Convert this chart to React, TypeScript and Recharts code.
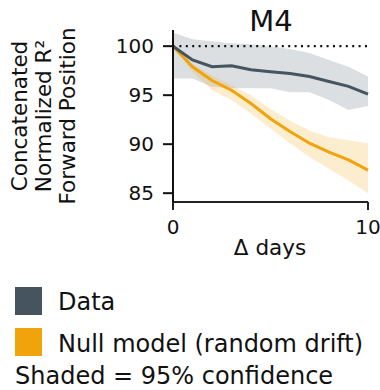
import React from "react";
import {
  ComposedChart,
  Area,
  Line,
  XAxis,
  YAxis,
  ReferenceLine,
} from "recharts";

const days = [0, 1, 2, 3, 4, 5, 6, 7, 8, 9, 10];
const dataMean = [100, 98.6, 97.9, 98.0, 97.6, 97.4, 97.2, 96.9, 96.4, 95.9, 95.1];
const dataLow = [96.7, 96.7, 95.85, 95.7, 95.7, 95.7, 95.3, 95.3, 94.5, 93.5, 93.9];
const dataHigh = [101.4, 100.7, 100.5, 100.3, 100.2, 100.0, 99.7, 99.3, 98.6, 97.9, 96.9];
const nullMean = [100, 97.9, 96.5, 95.5, 94.15, 92.6, 91.3, 90.1, 89.2, 88.4, 87.35];
const nullLow = [100, 97.4, 95.5, 94.5, 93.1, 91.6, 90.1, 88.7, 87.5, 86.3, 85.0];
const nullHigh = [100, 98.2, 97.0, 96.0, 95.0, 93.6, 92.4, 91.4, 90.7, 90.4, 90.1];
const yTicks = [85, 90, 95, 100];
const xTicks = [0, 10];
const legendItems = ["Data", "Null model (random drift)"];

const GRAY = "#45545f";
const ORANGE = "#f0a30a";
const FONT = "DejaVu Sans";

const rows = days.map((d, i) => ({
  day: d,
  data: dataMean[i],
  dataBand: [dataLow[i], dataHigh[i]],
  nullm: nullMean[i],
  nullBand: [nullLow[i], nullHigh[i]],
}));

const YLabel = () => (
  <g fontFamily={FONT} fontSize={21.5} fill="#111">
    {["Concatenated", "Normalized R²", "Forward Position"].map((t, i) => (
      <text
        key={t}
        x={0}
        y={0}
        textAnchor="middle"
        transform={`translate(${27 + i * 24}, 116) rotate(-90)`}
      >
        {t}
      </text>
    ))}
  </g>
);

const XLabel = () => (
  <text x={270} y={255} textAnchor="middle" fontFamily={FONT} fontSize={21.5} fill="#111">
    Δ days
  </text>
);

export default function App() {
  return (
    <div
      style={{
        position: "fixed",
        left: 0,
        top: 0,
        width: 380,
        height: 390,
        background: "#fff",
        fontFamily: FONT,
        overflow: "hidden",
      }}
    >
      <ComposedChart
        width={380}
        height={262}
        data={rows}
        margin={{ top: 30, right: 12, bottom: 0, left: 0 }}
      >
        <XAxis
          dataKey="day"
          type="number"
          domain={[0, 10]}
          ticks={xTicks}
          height={60}
          tickSize={8}
          tickMargin={10}
          stroke="#222"
          strokeWidth={2}
          tick={{ fill: "#111", fontSize: 20, fontFamily: FONT }}
          label={{ content: () => <XLabel /> }}
        />
        <YAxis
          type="number"
          domain={[84.1, 101.65]}
          ticks={yTicks}
          width={173}
          tickSize={10}
          tickMargin={9}
          stroke="#111"
          strokeWidth={2}
          tick={{ fill: "#111", fontSize: 20, fontFamily: FONT }}
          label={{ content: () => <YLabel /> }}
        />
        <Area
          dataKey="dataBand"
          stroke="none"
          fill={GRAY}
          fillOpacity={0.19}
          isAnimationActive={false}
        />
        <Area
          dataKey="nullBand"
          stroke="none"
          fill={ORANGE}
          fillOpacity={0.2}
          isAnimationActive={false}
        />
        <ReferenceLine
          y={100}
          stroke="#111"
          strokeWidth={2.2}
          strokeDasharray="2 4.4"
        />
        <Line
          dataKey="nullm"
          stroke={ORANGE}
          strokeWidth={3}
          dot={false}
          isAnimationActive={false}
        />
        <Line
          dataKey="data"
          stroke={GRAY}
          strokeWidth={3}
          dot={false}
          isAnimationActive={false}
        />
        <text
          x={271}
          y={31}
          textAnchor="middle"
          fontFamily={FONT}
          fontSize={29}
          fill="#111"
        >
          M4
        </text>
      </ComposedChart>
      <svg
        width={380}
        height={128}
        style={{ position: "absolute", left: 0, top: 262 }}
        fontFamily={FONT}
        fontSize={24}
        fill="#111"
      >
        {legendItems.map((label, i) => (
          <g key={label}>
            <rect
              x={15}
              y={25 + i * 41}
              width={27}
              height={28}
              fill={i === 0 ? GRAY : ORANGE}
            />
            <text x={58} y={48 + i * 42}>
              {label}
            </text>
          </g>
        ))}
        <text x={15} y={122}>
          Shaded = 95% confidence
        </text>
      </svg>
    </div>
  );
}
